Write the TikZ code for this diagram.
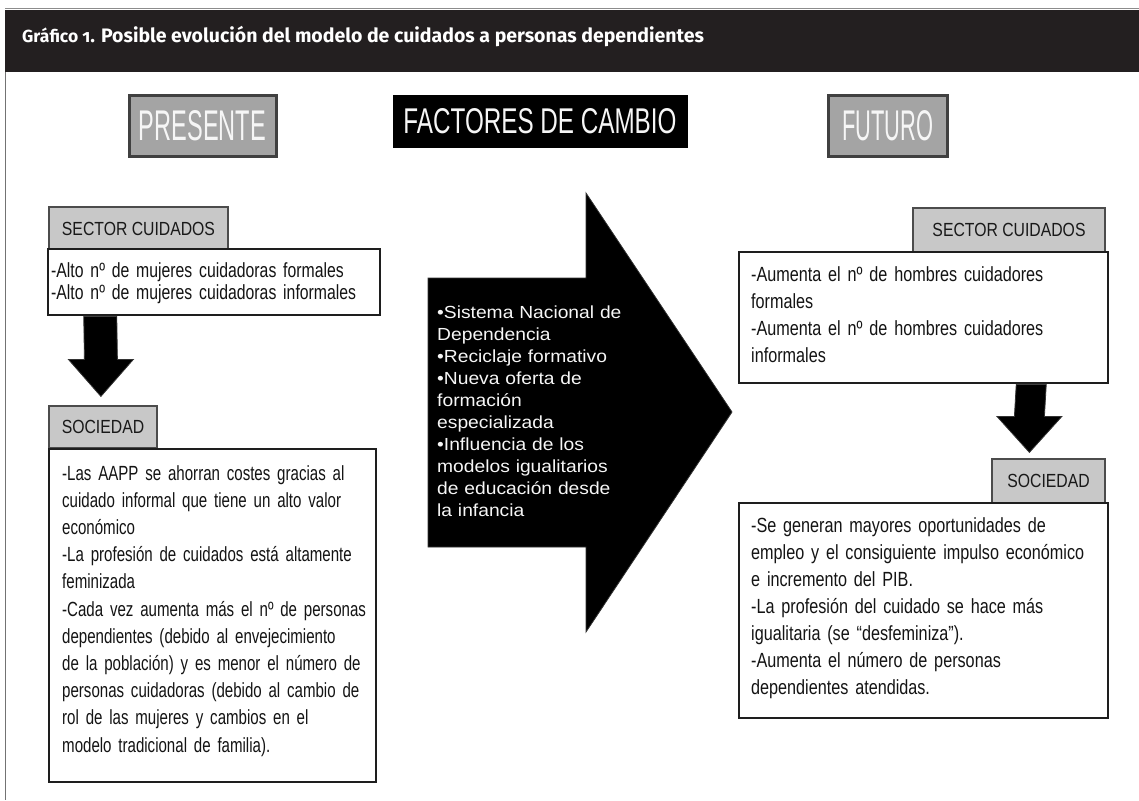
\documentclass[tikz,border=0pt]{standalone}
\usepackage{fontspec}
\usetikzlibrary{calc}
\setmainfont{Liberation Sans}
\newfontfamily\tabf[FakeStretch=0.83]{Liberation Sans}
\newfontfamily\bodyf[FakeStretch=0.77]{Liberation Sans}
\newfontfamily\bodyfl[FakeStretch=0.735]{Liberation Sans}
\newfontfamily\bodyfr[FakeStretch=0.79]{Liberation Sans}
\newfontfamily\arrowf[FakeStretch=1.1]{Liberation Sans}
\newfontfamily\headf{Liberation Sans}
\newfontfamily\titlef{Fira Sans}
\definecolor{hdr}{HTML}{231F20}
\definecolor{bigtab}{HTML}{A4A4A4}
\definecolor{smalltab}{HTML}{C8C8C8}
\definecolor{frame}{HTML}{1E1E1E}
\tikzset{
  bigbox/.style={draw=frame!85, line width=3pt, fill=bigtab, text=white!93!gray, inner sep=0pt, font=\headf},
  blackbox/.style={draw=black, line width=1pt, fill=black, text=white!93!gray, inner sep=0pt, font=\headf},
  tabbox/.style={draw=black!70, line width=1.2pt, fill=smalltab, inner sep=0pt, text=black!90, font=\tabf\fontsize{19}{22}\selectfont},
  contentbox/.style={draw=frame, line width=2.5pt, fill=white, inner sep=0pt},
  bodytext/.style={anchor=base west, inner sep=0pt, align=left, text width=#1, text=black!92},
  blockarrow/.style={fill=black, draw=black!80, line width=0.8pt}
}
\begin{document}
\begin{tikzpicture}[x=1pt,y=-1pt]
\useasboundingbox (0,0) rectangle (1139,800);
\fill[white] (0,0) rectangle (1139,800);
% frame and header
\draw[black!45, line width=1pt] (5,9) -- (1139,9);
\draw[black!55, line width=1.5pt] (5.5,72) -- (5.5,800);
\fill[hdr] (5,10) rectangle (1139,72);
\node[anchor=base west, inner sep=0pt, text=white, font=\titlef\bfseries\fontsize{19.5}{24}\selectfont] (title) at (22,43)
  {{\fontsize{17.5}{20}\selectfont Gráfico {\addfontfeatures{Numbers=OldStyle}1}}. Posible evolución del modelo de cuidados a personas dependientes};

% column headings
\node[bigbox, minimum width=147pt, minimum height=61pt] (presente) at (202.5,125.5) {\resizebox{127pt}{30pt}{PRESENTE}};
\node[blackbox, minimum width=294pt, minimum height=52pt] (factores) at (540,121) {\resizebox{273pt}{25pt}{FACTORES DE CAMBIO}};
\node[bigbox, minimum width=119pt, minimum height=61pt] (futuro) at (887.5,125.5) {\resizebox{91pt}{30pt}{FUTURO}};

% ---------- PRESENTE column
\node[tabbox, minimum width=179pt, minimum height=43pt] (lsectab) at (138.5,228.5) {SECTOR CUIDADOS};
\node[contentbox, minimum width=332pt, minimum height=66pt] (lsec) at (214,282) {};
\node[bodytext=330pt, font=\bodyf\fontsize{20.5}{22}\selectfont] (lsectxt) at (51,277)
  {-Alto nº de mujeres cuidadoras formales\\-Alto nº de mujeres cuidadoras informales};

\node[tabbox, minimum width=108pt, minimum height=42pt] (lsoctab) at (103,427) {SOCIEDAD};
\coordinate (la) at ($(lsec.south west)+(53.5,0)$);
\coordinate (lb) at ($(lsoctab.north west)+(52.5,-9)$);
\fill[blockarrow] ($(la)+(-16.5,0)$) -- ($(la)+(16.5,0)$) -- ($(lb)+(16.5,-37)$) -- ($(lb)+(32.5,-37)$) -- (lb) -- ($(lb)+(-32.5,-37)$) -- ($(lb)+(-16.5,-37)$) -- cycle;

\node[contentbox, minimum width=327pt, minimum height=333pt] (lsoc) at (212.5,615.5) {};
\node[bodytext=310pt, font=\bodyfl\fontsize{20.5}{27.2}\selectfont] (lsoctxt) at (62,480)
  {-Las AAPP se ahorran costes gracias al\\
   cuidado informal que tiene un alto valor\\
   económico\\
   -La profesión de cuidados está altamente\\
   feminizada\\
   -Cada vez aumenta más el nº de personas\\
   dependientes (debido al envejecimiento\\
   de la población) y es menor el número de\\
   personas cuidadoras (debido al cambio de\\
   rol de las mujeres y cambios en el\\
   modelo tradicional de familia).};

% ---------- big arrow
\coordinate (ba1) at (428,278);
\coordinate (ba2) at (586,278);
\coordinate (ba3) at (586,193);
\coordinate (batip) at (732,412);
\coordinate (ba5) at (586,632);
\coordinate (ba6) at (586,547);
\coordinate (ba7) at (428,547);
\fill[blockarrow] (ba1) -- (ba2) -- (ba3) -- (batip) -- (ba5) -- (ba6) -- (ba7) -- cycle;
\node[bodytext=250pt, text=white!93!gray, font=\arrowf\fontsize{17.5}{22}\selectfont] (factxt) at (437,318)
  {•Sistema Nacional de\\
   Dependencia\\
   •Reciclaje formativo\\
   •Nueva oferta de\\
   formación\\
   especializada\\
   •Influencia de los\\
   modelos igualitarios\\
   de educación desde\\
   la infancia};

% ---------- FUTURO column
\node[tabbox, minimum width=192pt, minimum height=44pt] (rsectab) at (1009,230) {SECTOR CUIDADOS};
\node[contentbox, minimum width=369pt, minimum height=131pt] (rsec) at (923.5,317.5) {};
\node[bodytext=350pt, font=\bodyfr\fontsize{20.5}{27}\selectfont] (rsectxt) at (751,281)
  {-Aumenta el nº de hombres cuidadores\\
   formales\\
   -Aumenta el nº de hombres cuidadores\\
   informales};

\node[tabbox, minimum width=113pt, minimum height=44pt] (rsoctab) at (1048.5,481) {SOCIEDAD};
\coordinate (ra) at ($(rsec.south east)+(-78,0)$);
\coordinate (rb) at ($(rsoctab.north west)+(38,-6)$);
\fill[blockarrow] ($(ra)+(-15,0)$) -- ($(ra)+(15,0)$) -- ($(rb)+(15,-36)$) -- ($(rb)+(32.5,-36)$) -- (rb) -- ($(rb)+(-32.5,-36)$) -- ($(rb)+(-15,-36)$) -- cycle;

\node[contentbox, minimum width=369pt, minimum height=215pt] (rsoc) at (923.5,610.5) {};
\node[bodytext=350pt, font=\bodyfr\fontsize{20.5}{27}\selectfont] (rsoctxt) at (751,532)
  {-Se generan mayores oportunidades de\\
   empleo y el consiguiente impulso económico\\
   e incremento del PIB.\\
   -La profesión del cuidado se hace más\\
   igualitaria (se “desfeminiza”).\\
   -Aumenta el número de personas\\
   dependientes atendidas.};
\end{tikzpicture}
\end{document}
